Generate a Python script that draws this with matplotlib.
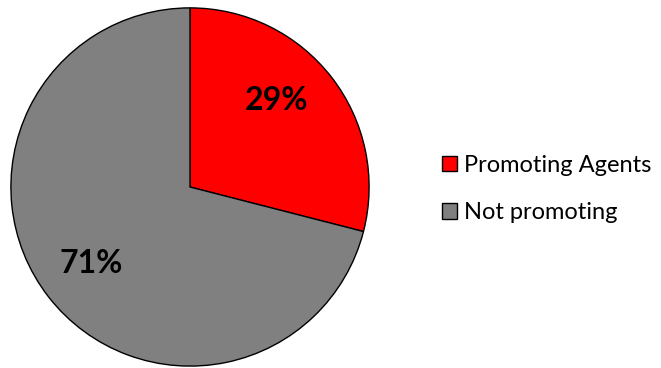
import numpy as np
import matplotlib.pyplot as plt
from matplotlib.patches import Patch

labels = ["Promoting Agents", "Not promoting"]
values = [29, 71]
colors = ["#FF0000", "#808080"]

plt.rcParams["font.family"] = ["Lato", "DejaVu Sans"]

fig = plt.figure(figsize=(6.61, 3.68), dpi=100)
ax = fig.add_axes([10 / 661, 1 / 368, 360 / 661, 360 / 368])

wedges, texts, autotexts = ax.pie(
    values,
    colors=colors,
    startangle=90,
    counterclock=False,
    autopct="%d%%",
    pctdistance=0.7,
    wedgeprops={"edgecolor": "black", "linewidth": 1.0},
    textprops={"fontsize": 23, "fontweight": "bold", "color": "black"},
)
# the small slice label sits a bit closer to the diagonal, like Excel does it
r = 0.68
autotexts[0].set_position((r * np.cos(np.radians(45)), r * np.sin(np.radians(45))))

ax.set_xlim(-1.005, 1.005)
ax.set_ylim(-1.005, 1.005)
ax.set_aspect("equal")

handles = [Patch(facecolor=c, edgecolor="black", linewidth=1.0) for c in colors]
fig.legend(
    handles,
    labels,
    loc="center left",
    bbox_to_anchor=(421 / 661, 1 - 189 / 368),
    frameon=False,
    fontsize=17,
    handlelength=0.62,
    handleheight=0.62,
    handletextpad=0.3,
    labelspacing=1.12,
)

fig.savefig("out.png", dpi=100)
